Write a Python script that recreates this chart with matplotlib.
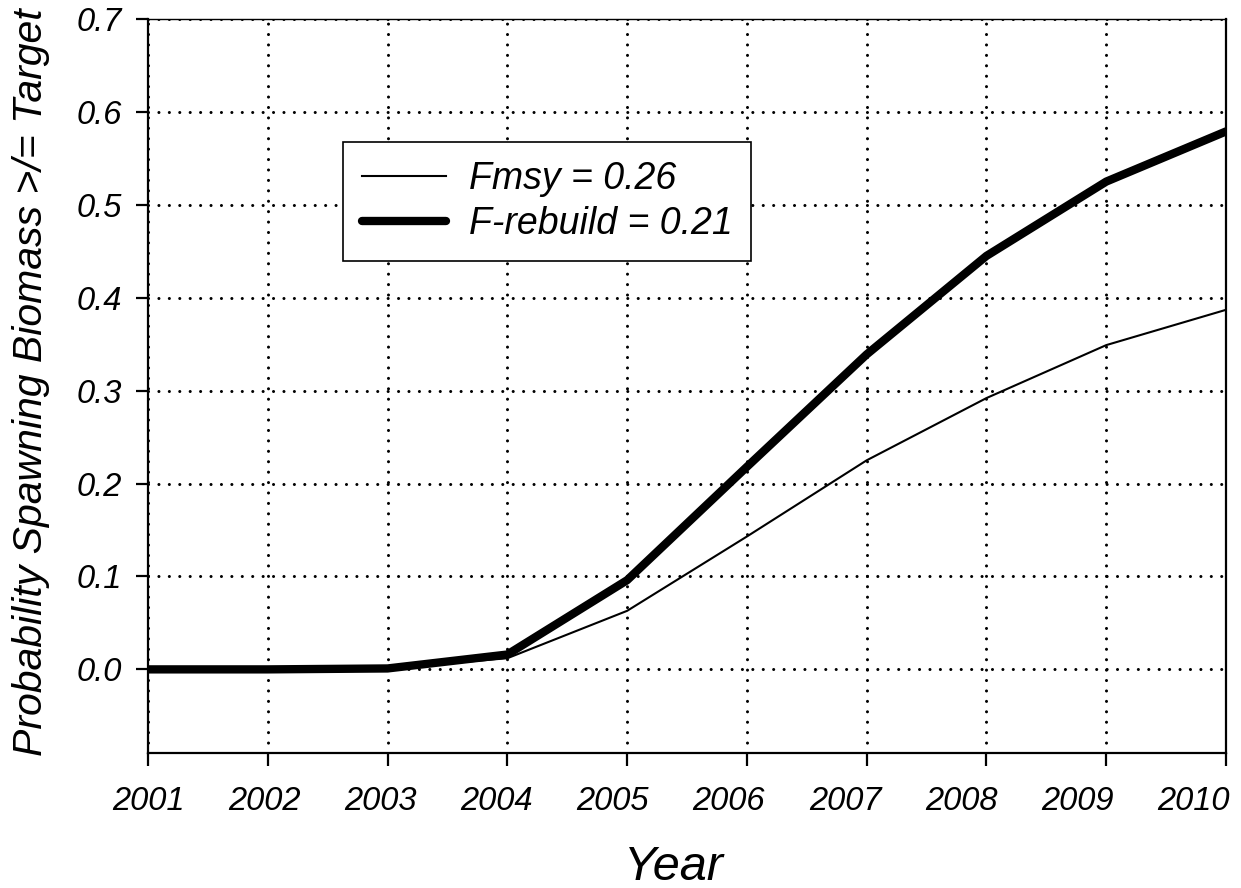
import numpy as np
import matplotlib.pyplot as plt
from matplotlib.transforms import ScaledTranslation

plt.rcParams['font.family'] = ['Liberation Sans', 'DejaVu Sans']
plt.rcParams['font.style'] = 'italic'

years = [2001, 2002, 2003, 2004, 2005, 2006, 2007, 2008, 2009, 2010]
fmsy = [0.0, 0.0, 0.001, 0.012, 0.063, 0.143, 0.225, 0.292, 0.349, 0.387]
f_rebuild = [0.0, 0.0, 0.001, 0.016, 0.096, 0.218, 0.339, 0.445, 0.525, 0.579]
yticks = [0.0, 0.1, 0.2, 0.3, 0.4, 0.5, 0.6, 0.7]

fig = plt.figure(figsize=(12.41, 8.88), dpi=100)
ax = fig.add_axes([148 / 1241, 1 - 753 / 888, (1226 - 148) / 1241, (753 - 19) / 888])

ax.plot(years, fmsy, color='black', lw=1.5, label='Fmsy = 0.26', zorder=3)
ax.plot(years, f_rebuild, color='black', lw=6, label='F-rebuild = 0.21',
        solid_capstyle='round', zorder=3)

ax.set_xlim(2001, 2010)
ax.set_ylim(-0.09, 0.7)
ax.set_xticks(years)
ax.set_xticklabels([str(y) for y in years])
ax.set_yticks(yticks)
ax.set_yticklabels(['%.1f' % v for v in yticks])

ax.grid(True, color='black', lw=2.2, linestyle=(0, (0.01, 3.4)))
for gl in ax.get_xgridlines() + ax.get_ygridlines():
    gl.set_dash_capstyle('round')

for side in ['left', 'right', 'bottom']:
    ax.spines[side].set_linewidth(1.6)
ax.spines['top'].set_linewidth(1.0)

ax.tick_params(direction='out', length=9, width=1.6, labelsize=23.5)
ax.tick_params(axis='x', pad=15)
ax.tick_params(axis='y', pad=10)

# the original's year labels drift a little to the left
for i, lab in enumerate(ax.get_xticklabels()):
    lab.set_fontstyle('italic')
    lab.set_transform(lab.get_transform() + ScaledTranslation(-3.6 * i / 100, 0, fig.dpi_scale_trans))
for lab in ax.get_yticklabels():
    lab.set_fontstyle('italic')

ax.set_xlabel('Year', fontsize=35)
ax.xaxis.set_label_coords((674 - 148) / 1078, -(880 - 753) / 734)
ax.xaxis.label.set_va('baseline')
ax.set_ylabel('Probability Spawning Biomass >/= Target', fontsize=29.5)
ax.yaxis.set_label_coords(-(148 - 31) / 1078, (753 - 382) / 734)
ax.yaxis.label.set_va('center')

leg = ax.legend(loc='upper left', bbox_to_anchor=(0.181, 0.8324), fontsize=27,
                frameon=True, fancybox=False, edgecolor='black', framealpha=1,
                handlelength=2.25, handletextpad=0.6, borderpad=0.5,
                labelspacing=0.25, borderaxespad=0)
leg.get_frame().set_linewidth(1.2)

fig.savefig('out.png', dpi=100)
